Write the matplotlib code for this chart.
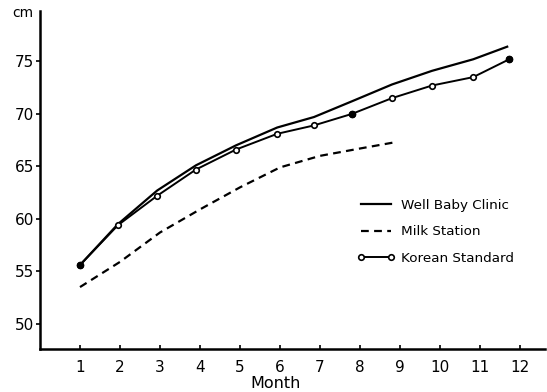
import numpy as np
import matplotlib.pyplot as plt

# age in months where each curve was plotted, and body length in cm
korean_age = [1.0, 1.95, 2.93, 3.9, 4.9, 5.93, 6.85, 7.8, 8.8, 9.8, 10.83, 11.73]
korean_len = [55.6, 59.4, 62.2, 64.7, 66.6, 68.1, 68.9, 70.0, 71.5, 72.7, 73.5, 75.2]

clinic_age = [1.0, 1.95, 2.93, 3.9, 4.9, 5.93, 6.85, 7.8, 8.8, 9.8, 10.83, 11.68]
clinic_len = [55.6, 59.5, 62.7, 65.1, 67.0, 68.7, 69.7, 71.2, 72.8, 74.1, 75.2, 76.4]

milk_age = [1, 2, 3, 4, 5, 6, 7, 8, 8.88]
milk_len = [53.5, 55.9, 58.7, 60.9, 63.0, 64.9, 66.0, 66.7, 67.3]

months = list(range(1, 13))
yticks = [50, 55, 60, 65, 70, 75]

plt.rcParams['font.family'] = 'DejaVu Sans'

fig = plt.figure(figsize=(5.47, 3.92), dpi=100)
ax = fig.add_axes([40/547, 1 - 349/392, 505/547, 338/392])

ax.plot(clinic_age, clinic_len, color='black', lw=1.6, label='Well Baby Clinic')
ax.plot(milk_age, milk_len, color='black', lw=1.6, dashes=(3.5, 2.4), label='Milk Station')
ax.plot(korean_age, korean_len, color='black', lw=1.4, marker='o', ms=4,
        mfc='white', mec='black', mew=1.2, label='Korean Standard')
# a few points are drawn solid
solid = [0, 7, 11]
ax.plot(np.array(korean_age)[solid], np.array(korean_len)[solid], 'o',
        color='black', ms=4.5)

ax.set_xlim(0, 12.625)
ax.set_ylim(47.6, 79.8)
ax.set_xticks(months)
ax.set_yticks(yticks)
ax.tick_params(axis='x', direction='in', length=3, width=1.2, pad=8, labelsize=11)
ax.tick_params(axis='y', direction='out', length=3, width=1.2, pad=1, labelsize=11)

for side in ['top', 'right']:
    ax.spines[side].set_visible(False)
for side in ['left', 'bottom']:
    ax.spines[side].set_linewidth(1.8)

fig.text(276/547, 1 - 383/392, 'Month', ha='center', va='center', fontsize=11.5)
fig.text(23/547, 1 - 13/392, 'cm', ha='center', va='center', fontsize=10)

ax.legend(loc='upper left', bbox_to_anchor=(357/547, 1 - 199/392),
          bbox_transform=fig.transFigure, frameon=False, fontsize=9.7,
          handlelength=2.8, handletextpad=0.45, labelspacing=1.0,
          borderpad=0, borderaxespad=0, numpoints=2)

fig.savefig('out.png', dpi=100)
